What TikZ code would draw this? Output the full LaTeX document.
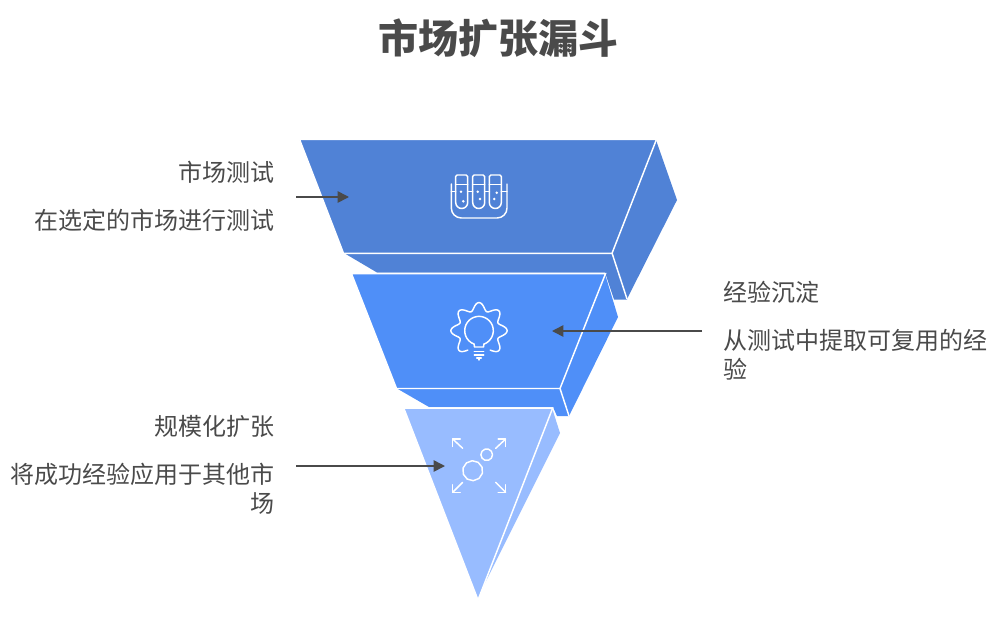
\documentclass[tikz,border=0pt]{standalone}
\usepackage{fontspec}
\setmainfont{Noto Sans CJK SC}
\usetikzlibrary{arrows.meta}
\definecolor{darktxt}{HTML}{4A4A4A}
\definecolor{tierA}{HTML}{5082D6}
\definecolor{tierB}{HTML}{4F8FF8}
\definecolor{tierC}{HTML}{98BCFF}
\tikzset{>={Triangle[length=8.5pt,width=8.5pt]}}
\tikzset{
    front/.style={draw=white,line width=1.1pt,line join=miter},
    icon/.style={draw=white,line width=1.1pt,line cap=round,line join=round},
    lbl/.style={text=darktxt,font=\fontsize{18}{21.75}\selectfont,inner sep=0pt},
    lblr/.style={lbl,anchor=east,align=right},
    lbll/.style={lbl,anchor=west,align=left},
    pointer/.style={->,draw=darktxt,line width=1.2pt},
}
\begin{document}
\begin{tikzpicture}[x=0.75pt,y=-0.75pt]
    \useasboundingbox (0,0) rectangle (994,628);
    % top tier
    \fill[tierA] (344,253)--(377,272.5)--(605,272.5)--(614,299.5)--(627,299.5)--(612,253)--cycle;
    \fill[tierA] (656,140)--(677,200)--(627,299)--(612,253)--cycle;
    \draw[front] (612,253)--(627,299);
    \filldraw[fill=tierA,front] (299.5,139.3)--(656.5,139.3)--(612,253.3)--(343.5,253.3)--cycle;
    % middle tier
    \fill[tierB] (397,388.5)--(429,407)--(553,407)--(557,416)--(569,416)--(560,388.5)--cycle;
    \fill[tierB] (605,274)--(618,317)--(569,416)--(560,388.5)--cycle;
    \draw[front] (560,388.5)--(569,416);
    \filldraw[fill=tierB,front] (351.5,273.7)--(605.5,273.7)--(560,388.5)--(396.5,388.5)--cycle;
    % bottom tier
    \fill[tierC] (552,408)--(560,433)--(478,597)--cycle;
    \filldraw[fill=tierC,front] (403.8,408.2)--(552.6,408.2)--(478,600)--cycle;
    % flask icon
    \foreach \xt in {455.7,472.7,489.3}{
        \draw[icon] (\xt,184.5)--(\xt,176.5) arc(180:270:1.5)--(\xt+10.5,175) arc(270:360:1.5)--(\xt+12,202.5) arc(0:180:6)--cycle;
        \draw[icon] (\xt,184.5)--(\xt+12,184.5);
    }
    \draw[icon] (451.3,184)--(451.3,208) arc(180:90:10)--(497,218) arc(90:0:10)--(507,184);
    \draw[icon] (451.3,191.7)--(455.7,191.7) (467.7,191.7)--(472.7,191.7) (484.7,191.7)--(489.3,191.7) (501.3,191.7)--(507,191.7);
    \foreach \xd/\yd in {461/191.7,463.3/201.3,477.7/191.7,480/199,496.7/192.7,494.3/199}{
        \fill[white] (\xd,\yd) circle(1.4);
    }
    % bulb icon
    \def\gx{479}
    \def\gy{330.7}
    \draw[icon,domain=-60:240,samples=160] plot({\gx+(24.3+3.8*cos(8*(\x-90)))*cos(\x)},{\gy-(24.3+3.8*cos(8*(\x-90)))*sin(\x)});
    \draw[icon] (483.9,344.1) arc(70:-250:14.3);
    \draw[icon] (483.9,344.1)--(483.5,347)--(474.5,347)--(474.1,344.1);
    \draw[icon] (474.3,351.5)--(483.7,351.5) (474.3,354.8)--(483.7,354.8) (476.7,357.8)--(481.3,357.8) (479,357.8)--(479,360);
    % expand icon
    \foreach \cx/\cy/\ex/\ey/\sx/\sy in {452.7/439/462.7/448.3/1/1,505.7/439/495.7/448.3/-1/1,452.7/492.3/462.7/482.3/1/-1,505.7/492.3/495.7/482.3/-1/-1}{
        \draw[icon] (\cx,\cy)--(\ex,\ey);
        \draw[icon] (\cx+\sx*7.5,\cy)--(\cx,\cy)--(\cx,\cy+\sy*7.5);
    }
    \draw[icon,domain=0:360,samples=11] plot({472.7+10*cos(\x+15)},{470.7+10*sin(\x+15)})--cycle;
    \draw[icon,domain=0:360,samples=11] plot({486.7+5.8*cos(\x)},{454.7+5.8*sin(\x)})--cycle;
    % texts
    \node[text=darktxt,font=\fontsize{30}{32}\bfseries\selectfont,inner sep=0pt] (title) at (498.5,38) {市场扩张漏斗};
    \node[lblr] (testhead) at (274.5,172) {市场测试};
    \node[lblr] (testtext) at (274.5,220) {在选定的市场进行测试};
    \node[lbll] (exphead) at (723,292) {经验沉淀};
    \node[lbll,anchor=north west] (exptext) at (723,329) {从测试中提取可复用的经\\验};
    \node[lblr] (scalehead) at (274.5,426) {规模化扩张};
    \node[lblr,anchor=north east] (scaletext) at (274.5,463) {将成功经验应用于其他市\\场};
    % pointers
    \coordinate (testfrom) at (296,197);
    \coordinate (testto) at (349,197);
    \coordinate (expfrom) at (702,331);
    \coordinate (expto) at (552,331);
    \coordinate (scalefrom) at (296,466);
    \coordinate (scaleto) at (445,466);
    \draw[pointer] (testfrom)--(testto);
    \draw[pointer] (expfrom)--(expto);
    \draw[pointer] (scalefrom)--(scaleto);
\end{tikzpicture}
\end{document}
